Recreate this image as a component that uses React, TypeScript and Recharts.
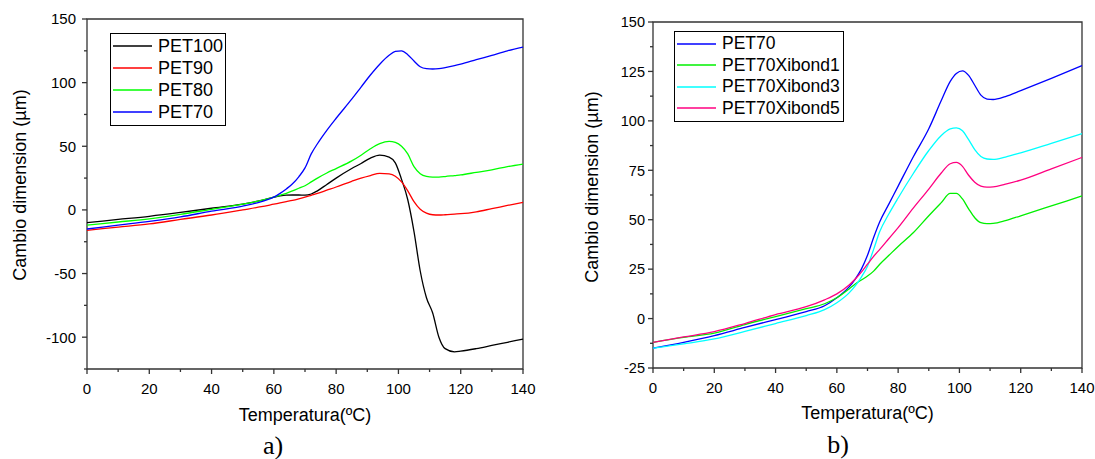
import { LineChart, Line, XAxis, YAxis, ReferenceArea, Legend } from "recharts"

// panel a) temperatures (ºC) and dimension change (µm)
const tempsA = [0, 10, 20, 30, 40, 50, 56, 60, 62, 64, 66, 68, 70, 72, 74, 77, 80, 85, 88, 91, 94, 97, 99, 101, 103, 105, 107, 109, 111, 113, 115, 118, 120, 125, 130, 135, 140]
const pet100 = [-10, -7.5, -5, -2, 1.3, 4.5, 7.5, 10, 11, 11.6, 11.7, 11.7, 11.6, 12.5, 15, 20, 25, 32.5, 36.5, 40.7, 43, 41.5, 37, 24, 8, -17, -48, -69, -81, -100, -109, -111.5, -111, -109, -106.5, -104, -101.5]
const pet90 = [-16, -13.5, -11, -7.5, -4, 0, 2.5, 4.5, 5.5, 6.5, 7.5, 8.7, 10, 11.5, 13, 15.5, 18, 22.5, 25, 27, 28.7, 28.3, 26.5, 22, 15, 6.5, 0.5, -2.5, -3.8, -4, -3.8, -3.3, -3, -1.5, 1, 3.5, 6]
const pet80 = [-12, -9.5, -7, -3.5, 0.5, 4.5, 7.5, 10, 11.5, 13, 15, 17, 19, 22, 25, 29, 32.5, 38.5, 43, 48, 52, 53.8, 53, 50, 44, 34, 28.5, 26.3, 25.7, 25.8, 26.2, 27, 27.5, 29.5, 31.5, 34, 36]
const pet70 = [-15, -12, -9, -5.5, -1, 3, 6.5, 10, 13, 16.5, 20.5, 26, 33, 44, 52, 62.5, 72, 87, 96.5, 106, 114.5, 121.5, 124.5, 125, 122, 117, 112.5, 111, 110.7, 111, 111.8, 113.3, 114.5, 118, 121.5, 125, 128]
const seriesA = ["PET100", "PET90", "PET80", "PET70"]

// panel b)
const tempsB = [0, 10, 20, 30, 40, 50, 56, 60, 64, 66, 68, 70, 72, 74, 77, 80, 85, 90, 94, 97, 99, 101, 103, 105, 107, 109, 111, 115, 120, 130, 140]
const pet70b = [-15, -12, -8.6, -4.5, -0.5, 3.5, 6.5, 10.5, 16, 20, 25, 32, 41, 49, 58, 67, 82, 96, 110, 120, 124, 125.3, 123, 118, 113, 111, 110.8, 112.3, 115.3, 121.5, 128]
const xibond1 = [-12, -9.5, -7.4, -3, 1, 5, 7.5, 10.5, 15, 17.5, 19.5, 21.5, 24, 27.5, 32, 36.5, 43.5, 52, 58.5, 63.3, 63.3, 60.5, 55.5, 51, 48.5, 48, 48.1, 49.5, 52, 57, 62]
const xibond3 = [-15, -12.8, -10.3, -6.5, -2.5, 1.5, 4.5, 8, 13, 16.5, 21, 26.5, 35, 44, 53, 61, 73.5, 85, 92.5, 96, 96.5, 95, 90.5, 85.5, 82, 80.7, 80.5, 81.7, 83.8, 88.6, 93.5]
const xibond5 = [-12, -9.3, -6.6, -2.5, 2, 6, 9.5, 12.5, 17, 20, 23.5, 27.5, 31.5, 35, 40.5, 46, 56, 65.5, 73.5, 78.3, 79, 77, 72.5, 69, 67, 66.5, 66.6, 68, 70, 75.7, 81.5]
const seriesB = ["PET70", "PET70Xibond1", "PET70Xibond3", "PET70Xibond5"]

const ticksX = [0, 10, 20, 30, 40, 50, 60, 70, 80, 90, 100, 110, 120, 130, 140]
const ticksYA = [-125, -100, -75, -50, -25, 0, 25, 50, 75, 100, 125, 150]
const ticksYB = [-25, -12.5, 0, 12.5, 25, 37.5, 50, 62.5, 75, 87.5, 100, 112.5, 125, 137.5, 150]

const dataA = tempsA.map((t, i) => ({ t, PET100: pet100[i], PET90: pet90[i], PET80: pet80[i], PET70: pet70[i] }))
const dataB = tempsB.map((t, i) => ({
  t,
  PET70: pet70b[i],
  PET70Xibond1: xibond1[i],
  PET70Xibond3: xibond3[i],
  PET70Xibond5: xibond5[i],
}))

const FONT = "'Liberation Sans', Arial, sans-serif"
const AXIS = "#333"

function XTick(props: any) {
  const { x, y, payload } = props
  const major = payload.value % 20 === 0
  return (
    <g>
      <line x1={x} y1={y} x2={x} y2={y + (major ? 5 : 3)} stroke={AXIS} strokeWidth={1.3} />
      {major && (
        <text x={x} y={y + 24.5} textAnchor="middle" fontSize={15} fontFamily={FONT} fill="#000">
          {payload.value}
        </text>
      )}
    </g>
  )
}

function YTick(props: any) {
  const { x, y, payload, step, gap, fontSize } = props
  const major = payload.value % step === 0
  return (
    <g>
      <line x1={x} y1={y} x2={x - (major ? 5 : 3)} y2={y} stroke={AXIS} strokeWidth={1.3} />
      {major && (
        <text x={x - gap} y={y} dy="0.36em" textAnchor="end" fontSize={fontSize} fontFamily={FONT} fill="#000">
          {payload.value}
        </text>
      )}
    </g>
  )
}

function LegendBox({ payload, order, width, rowH, fontSize }: any) {
  const items = [...(payload || [])].sort((a: any, b: any) => order.indexOf(a.value) - order.indexOf(b.value))
  return (
    <div
      style={{
        width,
        boxSizing: "border-box",
        border: "1px solid #000",
        background: "#fff",
        padding: "1px 0 2px 2px",
        fontFamily: FONT,
        fontSize,
        color: "#000",
      }}
    >
      {items.map((item: any) => (
        <div key={item.value} style={{ display: "flex", alignItems: "center", height: rowH }}>
          <svg width={39} height={4} style={{ marginRight: 6, flex: "none" }}>
            <line x1={0} y1={2} x2={39} y2={2} stroke={item.color} strokeWidth={1.3} />
          </svg>
          <span style={{ lineHeight: rowH + "px" }}>{item.value}</span>
        </div>
      ))}
    </div>
  )
}

function Caption({ text, cx, cy, size, serif, rotate }: any) {
  return (
    <div
      style={{
        position: "absolute",
        left: cx - 150,
        top: cy - 15,
        width: 300,
        height: 30,
        lineHeight: "30px",
        textAlign: "center",
        fontFamily: serif ? "'Liberation Serif', 'Times New Roman', serif" : FONT,
        fontSize: size,
        color: "#000",
        transform: rotate ? "rotate(-90deg)" : undefined,
        whiteSpace: "nowrap",
      }}
    >
      {text}
    </div>
  )
}

export default function App() {
  return (
    <div style={{ position: "absolute", left: 0, top: 0, width: 1095, height: 459, background: "#fff" }}>
      <div style={{ position: "absolute", left: 0, top: 0 }}>
        <LineChart width={550} height={459} data={dataA} margin={{ top: 19, right: 27, bottom: 0, left: 0 }}>
          <XAxis
            dataKey="t"
            type="number"
            domain={[0, 140]}
            ticks={ticksX}
            interval={0}
            height={90}
            axisLine={false}
            tickLine={false}
            tickSize={0}
            tickMargin={0}
            tick={(p: any) => <XTick {...p} />}
          />
          <YAxis
            type="number"
            domain={[-125, 150]}
            ticks={ticksYA}
            interval={0}
            width={87}
            axisLine={false}
            tickLine={false}
            tickSize={0}
            tickMargin={0}
            tick={(p: any) => <YTick {...p} step={50} gap={11} fontSize={15} />}
          />
          <ReferenceArea x1={0} x2={140} y1={-125} y2={150} fill="none" stroke={AXIS} strokeWidth={1.3} />
          <Line type="monotone" dataKey="PET100" name="PET100" stroke="#000000" strokeWidth={1.3} dot={false} isAnimationActive={false} />
          <Line type="monotone" dataKey="PET90" name="PET90" stroke="#ff0000" strokeWidth={1.3} dot={false} isAnimationActive={false} />
          <Line type="monotone" dataKey="PET80" name="PET80" stroke="#00ff00" strokeWidth={1.3} dot={false} isAnimationActive={false} />
          <Line type="monotone" dataKey="PET70" name="PET70" stroke="#0000ff" strokeWidth={1.3} dot={false} isAnimationActive={false} />
          <Legend
            layout="vertical"
            align="center"
            verticalAlign="middle"
            wrapperStyle={{ left: 110, top: 33, width: "auto", height: "auto" }}
            content={(p: any) => <LegendBox payload={p.payload} order={seriesA} width={116} rowH={22} fontSize={18} />}
          />
        </LineChart>
      </div>

      <div style={{ position: "absolute", left: 550, top: 0 }}>
        <LineChart width={545} height={459} data={dataB} margin={{ top: 22, right: 13, bottom: 0, left: 0 }}>
          <XAxis
            dataKey="t"
            type="number"
            domain={[0, 140]}
            ticks={ticksX}
            interval={0}
            height={91}
            axisLine={false}
            tickLine={false}
            tickSize={0}
            tickMargin={0}
            tick={(p: any) => <XTick {...p} />}
          />
          <YAxis
            type="number"
            domain={[-25, 150]}
            ticks={ticksYB}
            interval={0}
            width={103}
            axisLine={false}
            tickLine={false}
            tickSize={0}
            tickMargin={0}
            tick={(p: any) => <YTick {...p} step={25} gap={8} fontSize={14.5} />}
          />
          <ReferenceArea x1={0} x2={140} y1={-25} y2={150} fill="none" stroke={AXIS} strokeWidth={1.3} />
          <Line type="monotone" dataKey="PET70" name="PET70" stroke="#0000ff" strokeWidth={1.3} dot={false} isAnimationActive={false} />
          <Line type="monotone" dataKey="PET70Xibond1" name="PET70Xibond1" stroke="#00f000" strokeWidth={1.3} dot={false} isAnimationActive={false} />
          <Line type="monotone" dataKey="PET70Xibond3" name="PET70Xibond3" stroke="#00ffff" strokeWidth={1.3} dot={false} isAnimationActive={false} />
          <Line type="monotone" dataKey="PET70Xibond5" name="PET70Xibond5" stroke="#ff0080" strokeWidth={1.3} dot={false} isAnimationActive={false} />
          <Legend
            layout="vertical"
            align="center"
            verticalAlign="middle"
            wrapperStyle={{ left: 124, top: 31, width: "auto", height: "auto" }}
            content={(p: any) => <LegendBox payload={p.payload} order={seriesB} width={170} rowH={21.5} fontSize={17.5} />}
          />
        </LineChart>
      </div>

      <Caption text="Cambio dimension (µm)" cx={19.5} cy={185} size={18} rotate />
      <Caption text="Temperatura(ºC)" cx={305} cy={415} size={18} />
      <Caption text="a)" cx={273} cy={446} size={26} serif />

      <Caption text="Cambio dimension (µm)" cx={591.5} cy={187} size={18} rotate />
      <Caption text="Temperatura(ºC)" cx={867.5} cy={412.5} size={18} />
      <Caption text="b)" cx={838} cy={445} size={26} serif />
    </div>
  )
}
